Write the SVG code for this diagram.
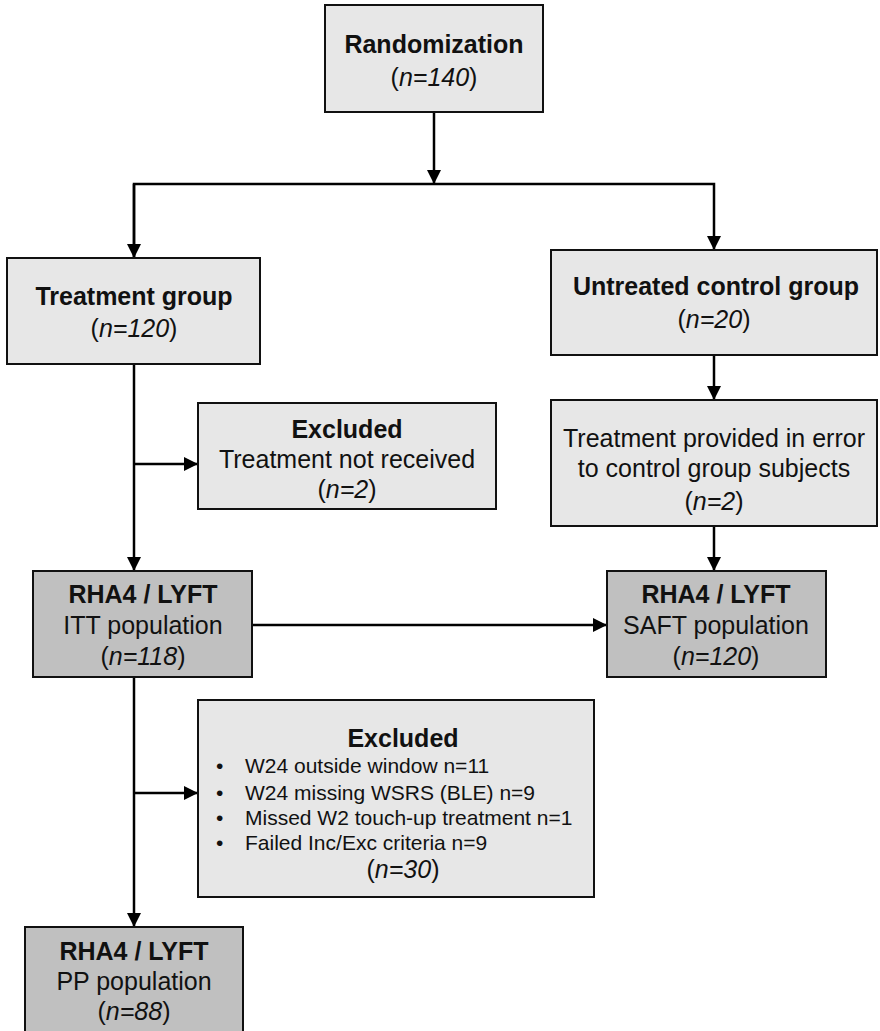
<svg xmlns="http://www.w3.org/2000/svg" width="880" height="1031" viewBox="0 0 880 1031">
<style>
.box{fill:#e7e7e7;stroke:#111;stroke-width:2}
.dark{fill:#c0c0c0;stroke:#111;stroke-width:2}
text{font-family:"Liberation Sans",Arial,sans-serif;fill:#111;text-anchor:middle;font-size:25px}
.b{font-weight:bold}
.i{font-style:italic}
.sm{font-size:21px;text-anchor:start}
.ln{fill:none;stroke:#000;stroke-width:2.5}
</style>
<defs>
<marker id="ah" markerUnits="userSpaceOnUse" markerWidth="14" markerHeight="14" viewBox="0 0 14 14" refX="14" refY="7" orient="auto">
<path d="M0,0 L14,7 L0,14 Z" fill="#000"/>
</marker>
</defs>
<g id="connectors">
<line class="ln" x1="434" y1="112" x2="434" y2="184" marker-end="url(#ah)"/>
<polyline class="ln" points="134,258 134,184 714,184 714,250" marker-end="url(#ah)"/>
<line class="ln" x1="134" y1="184" x2="134" y2="258" marker-end="url(#ah)"/>
<line class="ln" x1="134" y1="364" x2="134" y2="571" marker-end="url(#ah)"/>
<line class="ln" x1="134" y1="464" x2="198" y2="464" marker-end="url(#ah)"/>
<line class="ln" x1="714" y1="355" x2="714" y2="400" marker-end="url(#ah)"/>
<line class="ln" x1="714" y1="526" x2="714" y2="571" marker-end="url(#ah)"/>
<line class="ln" x1="252" y1="625" x2="607" y2="625" marker-end="url(#ah)"/>
<line class="ln" x1="134" y1="677" x2="134" y2="927" marker-end="url(#ah)"/>
<line class="ln" x1="134" y1="793" x2="198" y2="793" marker-end="url(#ah)"/>
</g>
<g id="randomization">
<rect class="box" x="325" y="5" width="218" height="107"/>
<text x="434" y="53" class="b">Randomization</text>
<text x="434" y="86">(<tspan class="i">n=140</tspan>)</text>
</g>
<g id="treatment">
<rect class="box" x="7" y="258" width="253" height="106"/>
<text x="134" y="305" class="b">Treatment group</text>
<text x="134" y="337">(<tspan class="i">n=120</tspan>)</text>
</g>
<g id="control">
<rect class="box" x="551" y="250" width="326" height="105"/>
<text x="716" y="295" class="b">Untreated control group</text>
<text x="714" y="328">(<tspan class="i">n=20</tspan>)</text>
</g>
<g id="error">
<rect class="box" x="551" y="400" width="326" height="126"/>
<text x="714" y="447">Treatment provided in error</text>
<text x="714" y="477">to control group subjects</text>
<text x="714" y="510">(<tspan class="i">n=2</tspan>)</text>
</g>
<g id="excluded1">
<rect class="box" x="198" y="403" width="298" height="106"/>
<text x="347" y="438" class="b">Excluded</text>
<text x="347" y="468">Treatment not received</text>
<text x="347" y="498">(<tspan class="i">n=2</tspan>)</text>
</g>
<g id="itt">
<rect class="dark" x="33" y="571" width="219" height="106"/>
<text x="143" y="603" class="b">RHA4 / LYFT</text>
<text x="143" y="634">ITT population</text>
<text x="143" y="665">(<tspan class="i">n=118</tspan>)</text>
</g>
<g id="saft">
<rect class="dark" x="607" y="571" width="219" height="106"/>
<text x="716" y="603" class="b">RHA4 / LYFT</text>
<text x="716" y="634">SAFT population</text>
<text x="716" y="665">(<tspan class="i">n=120</tspan>)</text>
</g>
<g id="excluded2">
<rect class="box" x="198" y="700" width="396" height="197"/>
<text x="403" y="747" class="b">Excluded</text>
<text class="sm" x="216" y="773">•</text><text class="sm" x="245" y="773">W24 outside window n=11</text>
<text class="sm" x="216" y="800">•</text><text class="sm" x="245" y="800">W24 missing WSRS (BLE) n=9</text>
<text class="sm" x="216" y="825">•</text><text class="sm" x="245" y="825">Missed W2 touch-up treatment n=1</text>
<text class="sm" x="216" y="850">•</text><text class="sm" x="245" y="850">Failed Inc/Exc criteria n=9</text>
<text x="403" y="878">(<tspan class="i">n=30</tspan>)</text>
</g>
<g id="pp">
<rect class="dark" x="25" y="927" width="218" height="110"/>
<text x="134" y="960" class="b">RHA4 / LYFT</text>
<text x="134" y="990">PP population</text>
<text x="134" y="1020">(<tspan class="i">n=88</tspan>)</text>
</g>
</svg>
